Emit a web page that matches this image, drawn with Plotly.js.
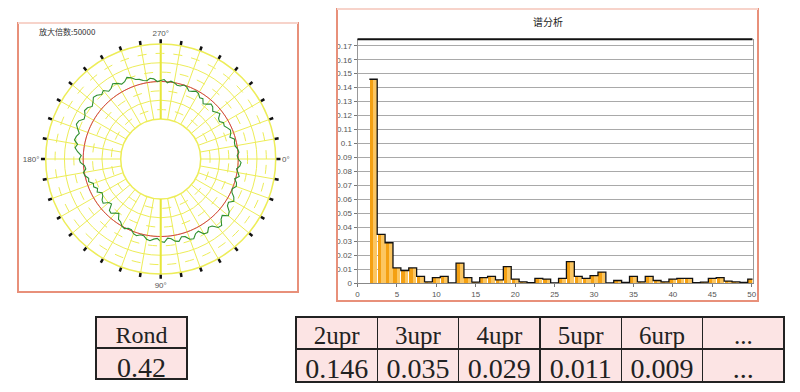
<!DOCTYPE html>
<html><head><meta charset="utf-8">
<script src="https://cdn.plot.ly/plotly-3.0.1.min.js"></script>
<style>html,body{margin:0;padding:0;background:#fff}#chart{width:800px;height:392px}</style>
</head><body><div id="chart"></div>
<script>
// ---- data ----
const harmonics = [2,3,4,5,6,7,8,9,10,11,12,13,14,15,16,17,18,19,20,21,22,23,24,25,26,27,28,29,30,31,32,33,34,35,36,37,38,39,40,41,42,43,44,45,46,47,48,49,50];
const amplitudes = [0.146,0.035,0.029,0.011,0.009,0.011,0.005,0.001,0.004,0.005,0.0003,0.0145,0.004,0.0008,0.004,0.005,0.0025,0.012,0.003,0.001,0.0005,0.0035,0.003,0.0003,0.0035,0.0155,0.005,0.0035,0.0055,0.008,0.0002,0.002,0.0007,0.005,0.001,0.005,0.002,0.001,0.003,0.0035,0.0035,0.0004,0.0008,0.0035,0.004,0.0015,0.001,0.0006,0.003];
const tableLabels = ["2upr","3upr","4upr","5upr","6urp","..."];
const roundnessLabel = "Rond";
const roundnessValue = 0.42;
const profileStepDeg = 2.5;
const profileDeviation = [
 0.000,0.050,0.034,-0.017,0.017,0.050,-0.017,0.034,0.050,0.000,
 0.017,0.084,0.118,0.050,0.067,0.151,0.185,0.101,0.134,0.218,
 0.202,0.118,0.101,0.168,0.151,0.067,0.084,0.151,0.134,0.067,
 0.050,0.118,0.101,0.050,0.034,0.101,0.084,0.034,0.050,0.084,
 0.067,0.017,0.017,0.050,0.034,-0.017,-0.017,0.017,0.000,-0.050,
 -0.067,-0.151,-0.118,-0.067,-0.084,-0.185,-0.168,-0.084,-0.101,-0.151,
 -0.168,-0.101,-0.134,-0.084,-0.101,-0.034,-0.050,0.000,0.017,-0.034,
 -0.017,0.050,0.067,0.034,0.101,0.151,0.118,0.185,0.168,0.134,
 0.185,0.235,0.218,0.151,0.168,0.218,0.202,0.151,0.185,0.235,
 0.218,0.168,0.202,0.134,0.151,0.202,0.168,0.118,0.134,0.185,
 0.151,0.101,0.084,0.050,0.034,0.067,0.050,0.000,0.017,0.034,
 -0.017,0.017,0.000,-0.034,-0.034,0.000,-0.017,-0.067,-0.050,-0.017,
 -0.034,-0.084,-0.067,-0.134,-0.101,-0.050,-0.067,-0.118,-0.084,-0.050,
 -0.118,-0.134,-0.084,-0.101,-0.067,-0.034,-0.050,-0.084,-0.017,-0.034,
 -0.034,0.000,0.017,-0.017];
const referenceDeviation = 0;
const angleLabelText = {0:"0°",90:"90°",180:"180°",270:"270°"};
const magnificationText = "放大倍数:50000";
const spectrumTitle = "谱分析";

// ---- derived ----
const theta = profileDeviation.map((_, i) => i * profileStepDeg);
const thetaClosed = theta.concat([360]);
const profileClosed = profileDeviation.concat([profileDeviation[0]]);
const referenceClosed = thetaClosed.map(() => referenceDeviation);
const spokeVals = []; for (let a = 0; a < 360; a += 10) spokeVals.push(a);
const spokeText = spokeVals.map(a => angleLabelText[a] || "");
const stepX = harmonics.map(h => h - 0.5).concat([harmonics[harmonics.length-1] + 0.5]);
const stepY = amplitudes.concat([amplitudes[amplitudes.length-1]]);
const tableValues = amplitudes.slice(0, 5).map(v => v.toFixed(3)).concat(["..."]);

const W = 800, H = 392;
const px = x => x / W, py = y => 1 - y / H;
const yellow = '#eded58';
const polarDomain = {x:[px(160.7-115), px(160.7+115)], y:[py(159+115), py(159-115)]};
const radialRange = [-0.64, 0.64];

const traces = [
  {type:'scatterpolar', subplot:'polar', r:referenceClosed, theta:thetaClosed, mode:'lines',
   line:{color:'#d23c55', width:1}, hoverinfo:'skip', showlegend:false},
  {type:'scatterpolar', subplot:'polar2', r:profileClosed, theta:thetaClosed, mode:'lines',
   line:{color:'#2e8f2e', width:1.1}, showlegend:false},
  {type:'bar', x:harmonics, y:amplitudes, width:0.9, marker:{color:'#fcc661', line:{width:0}}, showlegend:false, xaxis:'x', yaxis:'y'},
  {type:'bar', x:harmonics, y:amplitudes, width:0.42, offset:-0.44, marker:{color:'#f4a012', line:{width:0}}, showlegend:false, xaxis:'x', yaxis:'y'},
  {type:'scatter', x:stepX, y:stepY, mode:'lines', line:{shape:'hv', color:'#111', width:1.3}, showlegend:false, hoverinfo:'skip', xaxis:'x', yaxis:'y'},
  {type:'table', domain:{x:[px(96), px(187)], y:[0, py(317)]}, columnwidth:[1],
   header:{values:[roundnessLabel], height:31, align:'center', fill:{color:'#fce4e4'}, line:{color:'#222', width:1.5},
           font:{family:'Liberation Serif', size:24, color:'#222'}},
   cells:{values:[[roundnessValue.toFixed(2)]], height:31, align:'center', fill:{color:'#fce4e4'}, line:{color:'#222', width:1.5},
          font:{family:'Liberation Serif', size:28, color:'#222'}}},
  {type:'table', domain:{x:[px(296), px(785)], y:[0, py(317)]},
   header:{values:tableLabels, height:32, align:'center', fill:{color:'#fce4e4'}, line:{color:'#222', width:1.5},
           font:{family:'Liberation Serif', size:25, color:'#222'}},
   cells:{values:tableValues.map(v => [v]), height:33, align:'center', fill:{color:'#fce4e4'}, line:{color:'#222', width:1.5},
          font:{family:'Liberation Serif', size:28, color:'#222'}}}
];

const layout = {
  width:W, height:H, margin:{l:0,r:0,t:0,b:0}, paper_bgcolor:'#fff', plot_bgcolor:'#fff',
  showlegend:false, barmode:'overlay', bargap:0,
  font:{family:'Liberation Sans, Arial, sans-serif', color:'#444'},
  polar:{domain:polarDomain, hole:0.348, bgcolor:'#fff',
    radialaxis:{range:radialRange, tickmode:'array', tickvals:[-0.64,-0.32,0,0.32,0.64], showticklabels:false, ticks:'',
      gridcolor:yellow, gridwidth:1, showline:true, linecolor:'#e6e63a', linewidth:2, angle:90},
    angularaxis:{direction:'clockwise', rotation:0, tickmode:'array', tickvals:spokeVals, ticktext:spokeText,
      ticks:'outside', ticklen:4, tickwidth:2.5, tickcolor:'#111', gridcolor:yellow, gridwidth:1,
      showline:true, linecolor:yellow, linewidth:1.5, tickfont:{size:8, color:'#555'}}},
  polar2:{domain:polarDomain, hole:0.348, bgcolor:'rgba(0,0,0,0)',
    radialaxis:{range:radialRange, tickmode:'array', tickvals:[-0.48,-0.16,0.16,0.48], showticklabels:false, ticks:'',
      gridcolor:yellow, gridwidth:1, griddash:'dash', showline:true, linecolor:'#e6e63a', linewidth:2, angle:270},
    angularaxis:{direction:'clockwise', rotation:0, showgrid:false, showline:false, ticks:'', showticklabels:false}},
  xaxis:{domain:[px(357.5), px(752.5)], range:[0, 50.1], tickmode:'linear', tick0:0, dtick:5,
    ticks:'outside', ticklen:3, tickcolor:'#777', showgrid:false, zeroline:false, showline:true, linecolor:'#888',
    tickfont:{size:8, color:'#555'}},
  yaxis:{domain:[py(283.3), py(39.3)], range:[0, 0.1746], tickmode:'linear', tick0:0, dtick:0.01,
    ticks:'outside', ticklen:3, tickcolor:'#777', showgrid:true, gridcolor:'#a9a9a9', gridwidth:1, zeroline:false,
    showline:true, mirror:true, linecolor:'#999', tickfont:{size:8, color:'#555'}},
  shapes:[
    {type:'rect', xref:'paper', yref:'paper', x0:px(18), x1:px(298), y0:py(292), y1:py(23), line:{color:'#e8907a', width:2}},
    {type:'line', xref:'paper', yref:'paper', x0:px(18), x1:px(298), y0:py(23), y1:py(23), line:{color:'#f7d3ca', width:2}},
    {type:'rect', xref:'paper', yref:'paper', x0:px(337), x1:px(758), y0:py(301), y1:py(9), line:{color:'#e8907a', width:2}},
    {type:'line', xref:'paper', yref:'paper', x0:px(337), x1:px(758), y0:py(9), y1:py(9), line:{color:'#f7d3ca', width:2}},
    {type:'line', xref:'x domain', yref:'y domain', x0:0, x1:1, y0:1, y1:1, line:{color:'#111', width:2}}
  ],
  annotations:[
    {xref:'paper', yref:'paper', x:px(37), y:py(31), xanchor:'left', yanchor:'middle', showarrow:false,
     text:magnificationText, font:{family:'Noto Sans CJK SC', size:8, color:'#333'}},
    {xref:'paper', yref:'paper', x:px(548), y:py(21), xanchor:'center', yanchor:'middle', showarrow:false,
     text:spectrumTitle, font:{family:'Noto Sans CJK SC', size:10, color:'#222'}}
  ]
};

Plotly.newPlot('chart', traces, layout, {staticPlot:true, displayModeBar:false});
</script></body></html>
